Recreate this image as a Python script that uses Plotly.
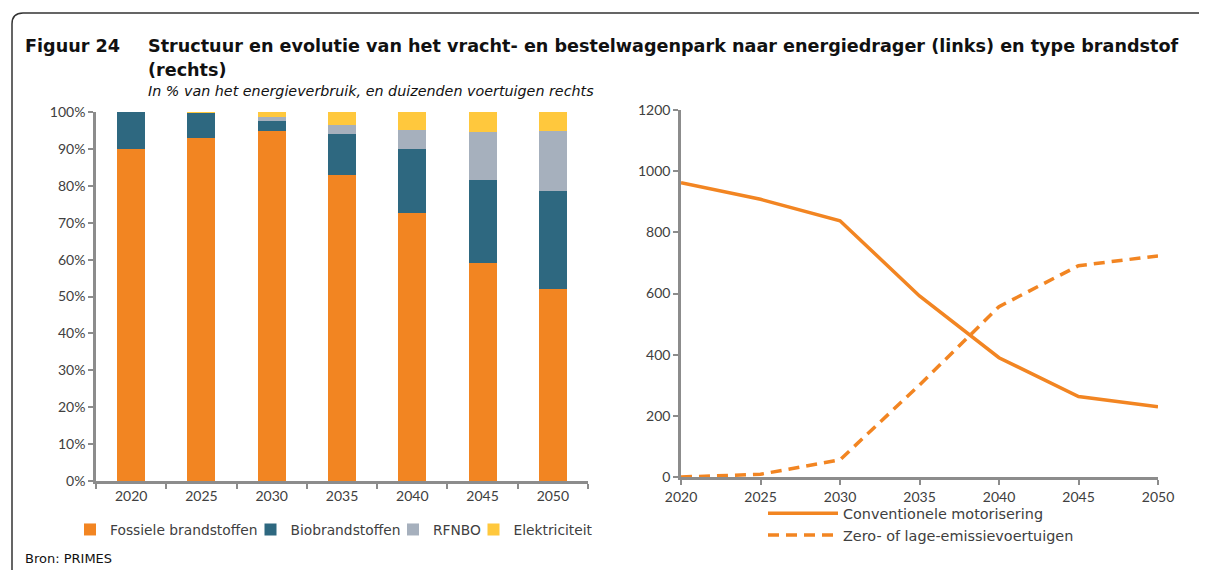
import plotly.graph_objects as go

years = ["2020", "2025", "2030", "2035", "2040", "2045", "2050"]
fossiel = [90.0, 93.0, 94.8, 82.9, 72.5, 59.0, 51.9]
bio = [10.0, 6.8, 2.8, 11.2, 17.4, 22.5, 26.6]
rfnbo = [0.0, 0.1, 1.1, 2.4, 5.3, 13.1, 16.3]
elek = [0.0, 0.1, 1.3, 3.5, 4.8, 5.4, 5.2]

line_years = [2020, 2025, 2030, 2035, 2040, 2045, 2050]
conventioneel = [962, 908, 838, 592, 390, 263, 230]
zero_emissie = [0, 9, 56, 301, 557, 691, 723]

# figure is sized so that it fits the window together with the 8px body margin
OX, OY = 8, 8
W, H = 1192, 562
ORANGE = "#F28522"
TEAL = "#2E6880"
GREYBLUE = "#A6B0BD"
YELLOW = "#FFC83D"
AXIS = "#8C8C8C"
TICKTXT = "#404040"

def px(x):
    return (x - OX) / W

def py(y):
    return (H - (y - OY)) / H

legfont = dict(family="DejaVu Sans", size=13.8, color="#404040")
# (name, values, colour, legend id, left edge of legend entry in px)
bar_series = [("Fossiele brandstoffen", fossiel, ORANGE, "legend", 70),
              ("Biobrandstoffen", bio, TEAL, "legend3", 250.5),
              ("RFNBO", rfnbo, GREYBLUE, "legend4", 393),
              ("Elektriciteit", elek, YELLOW, "legend5", 473.5)]

fig = go.Figure()
for name, vals, col, leg, _ in bar_series:
    fig.add_trace(go.Bar(x=years, y=vals, name=name, marker_color=col,
                         marker_line_width=0, xaxis="x", yaxis="y",
                         legend=leg))

fig.add_trace(go.Scatter(x=line_years, y=conventioneel, mode="lines",
                         name="Conventionele motorisering",
                         line=dict(color=ORANGE, width=3.5),
                         xaxis="x2", yaxis="y2", legend="legend2"))
fig.add_trace(go.Scatter(x=line_years, y=zero_emissie, mode="lines",
                         name="Zero- of lage-emissievoertuigen",
                         line=dict(color=ORANGE, width=3.5, dash="11px,7px"),
                         xaxis="x2", yaxis="y2", legend="legend2"))

tickfont = dict(family="Lato, sans-serif", size=14, color=TICKTXT)
axis_common = dict(showline=True, linecolor=AXIS, linewidth=2.5, ticks="outside",
                   tickcolor=AXIS, tickwidth=2, ticklen=5, showgrid=False,
                   zeroline=False, tickfont=tickfont, automargin=False)

legend_layout = {}
for name, vals, col, leg, lx in bar_series:
    legend_layout[leg] = dict(orientation="h", x=px(lx), y=py(529.5),
                              xanchor="left", yanchor="middle", font=legfont,
                              itemwidth=30, bgcolor="rgba(0,0,0,0)")
legend_layout["legend2"] = dict(orientation="v", x=px(763), y=py(524.5), xanchor="left",
                                yanchor="middle", font=dict(legfont, size=14.4),
                                itemwidth=70, tracegroupgap=0,
                                bgcolor="rgba(0,0,0,0)")

fig.update_layout(
    width=W, height=H,
    margin=dict(l=0, r=0, t=0, b=0, autoexpand=False),
    paper_bgcolor="white", plot_bgcolor="white",
    barmode="stack", bargap=0.6,
    showlegend=True,
    xaxis=dict(domain=[px(96), px(588)], anchor="y", type="category",
               tickson="boundaries", **axis_common),
    yaxis=dict(domain=[py(481), py(112)], anchor="x", range=[0, 100], dtick=10,
               ticksuffix="%", **axis_common),
    xaxis2=dict(domain=[px(681), px(1158)], anchor="y2", range=[2020, 2050],
                dtick=5, **axis_common),
    yaxis2=dict(domain=[py(477), py(110)], anchor="x2", range=[0, 1200],
                dtick=200, **axis_common),
    **legend_layout,
)

# frame (rounded top-left corner)
fig.add_shape(type="path", xref="paper", yref="paper",
              path=f"M {px(12)},{py(578)} L {px(12)},{py(24)} Q {px(12)},{py(13)} {px(23)},{py(13)} L {px(1199)},{py(13)}",
              line=dict(color="#333333", width=1.5))

title_font = dict(family="DejaVu Sans", size=17.6, color="#111111")
fig.add_annotation(xref="paper", yref="paper", x=px(23), y=py(46), xanchor="left",
                   yanchor="middle", showarrow=False, text="<b>Figuur 24</b>", font=title_font)
fig.add_annotation(xref="paper", yref="paper", x=px(146), y=py(46), xanchor="left",
                   yanchor="middle", showarrow=False,
                   text="<b>Structuur en evolutie van het vracht- en bestelwagenpark naar energiedrager (links) en type brandstof</b>",
                   font=title_font)
fig.add_annotation(xref="paper", yref="paper", x=px(146), y=py(70), xanchor="left",
                   yanchor="middle", showarrow=False, text="<b>(rechts)</b>", font=title_font)
fig.add_annotation(xref="paper", yref="paper", x=px(146), y=py(91), xanchor="left",
                   yanchor="middle", showarrow=False,
                   text="<i>In % van het energieverbruik, en duizenden voertuigen rechts</i>",
                   font=dict(family="DejaVu Sans", size=14.3, color="#111111"))
fig.add_annotation(xref="paper", yref="paper", x=px(23), y=py(558), xanchor="left",
                   yanchor="middle", showarrow=False, text="Bron: PRIMES",
                   font=dict(family="DejaVu Sans", size=13, color="#111111"))

fig.write_html("out.html")
